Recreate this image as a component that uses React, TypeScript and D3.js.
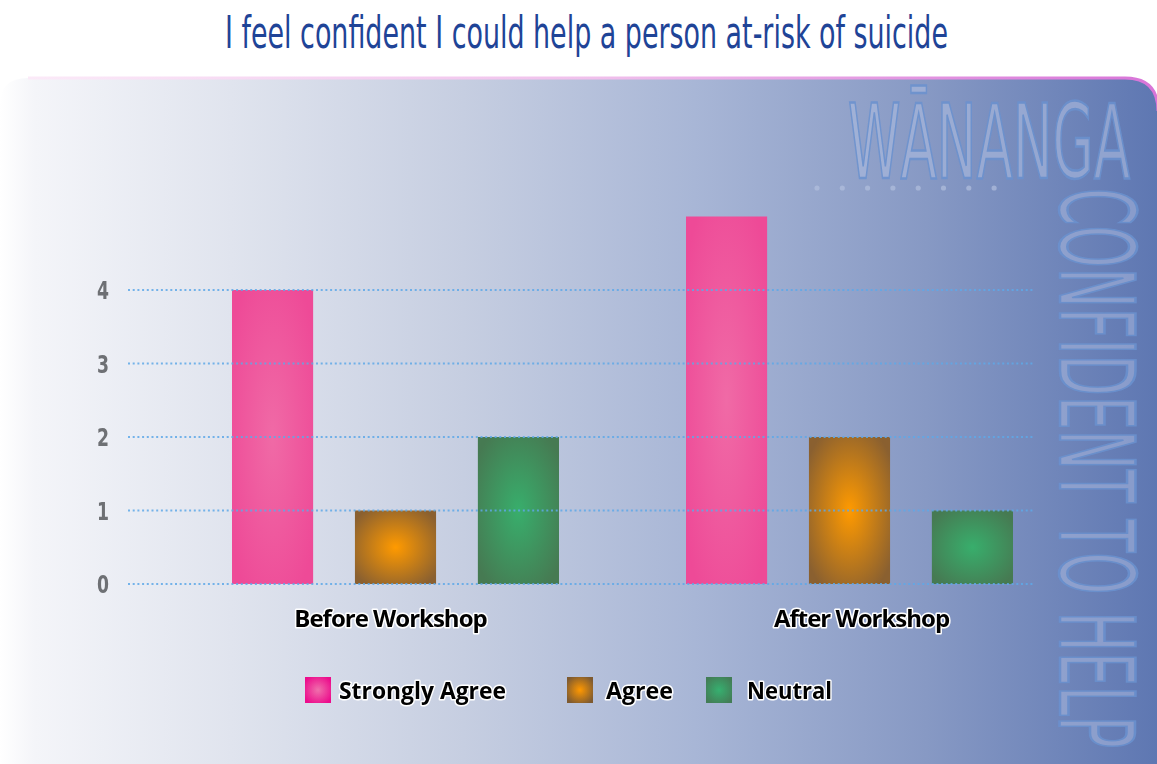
import React from "react";
import * as d3 from "d3";

const title = "I feel confident I could help a person at-risk of suicide";
const groups = ["Before Workshop", "After Workshop"];
const seriesNames = ["Strongly Agree", "Agree", "Neutral"];
const strongly = [4, 5];
const agree = [1, 2];
const neutral = [2, 1];
const yTicks = [0, 1, 2, 3, 4];
const seriesValues = [strongly, agree, neutral];

const W = 1157;
const H = 764;

const grads = [
  { id: "gPink", center: "#f06aa6", edge: "#ee4a97", legEdge: "#ec0c8c", legCenter: "#f070ac" },
  { id: "gAgree", center: "#ff9a00", edge: "#8a6030", legEdge: "#7e5a30", legCenter: "#ff9800" },
  { id: "gGreen", center: "#38ae6c", edge: "#467a52", legEdge: "#437d56", legCenter: "#36b070" },
];

export default function App() {
  const y = d3.scaleLinear().domain([0, 4]).range([584, 290]);
  const xg = d3.scalePoint<string>().domain(groups).range([395.5, 849.5]);
  const xi = d3
    .scaleBand<string>()
    .domain(seriesNames)
    .range([-163.5, 163.5])
    .paddingInner(0.34)
    .paddingOuter(0);

  const gridX0 = 128;
  const gridX1 = 1034;

  const legendItems = [
    { name: seriesNames[0], x: 305, tx: 339, tw: 167 },
    { name: seriesNames[1], x: 567, tx: 606, tw: 67 },
    { name: seriesNames[2], x: 706, tx: 747, tw: 85 },
  ];

  const haloText = {
    fontFamily: "'Open Sans', sans-serif",
    fontWeight: 700 as const,
    fill: "#000",
    stroke: "#ffffff",
    strokeWidth: 3,
    paintOrder: "stroke" as const,
    strokeLinejoin: "round" as const,
  };

  const dots = d3.range(8);

  return (
    <svg width={W} height={H} style={{ position: "absolute", left: 0, top: 0, display: "block" }}>
      <defs>
        <linearGradient id="bgGrad" x1="0" x2="1" y1="0" y2="0">
          <stop offset="0" stopColor="#ffffff" />
          <stop offset="0.03" stopColor="#f4f5f9" />
          <stop offset="0.2" stopColor="#e0e4ee" />
          <stop offset="0.4" stopColor="#c6cee1" />
          <stop offset="0.6" stopColor="#a8b6d6" />
          <stop offset="0.8" stopColor="#8799c4" />
          <stop offset="1" stopColor="#5e77b2" />
        </linearGradient>
        <linearGradient id="borderGrad" x1="0" x2="1" y1="0" y2="0">
          <stop offset="0" stopColor="#fbeaf8" />
          <stop offset="0.5" stopColor="#f0c0ec" />
          <stop offset="1" stopColor="#d874d8" />
        </linearGradient>
        {grads.map((g) => (
          <radialGradient key={g.id} id={g.id} cx="0.5" cy="0.5" r="0.62">
            <stop offset="0" stopColor={g.center} />
            <stop offset="1" stopColor={g.edge} />
          </radialGradient>
        ))}
        {grads.map((g) => (
          <radialGradient key={g.id + "L"} id={g.id + "L"} cx="0.5" cy="0.5" r="0.6">
            <stop offset="0" stopColor={g.legCenter} />
            <stop offset="1" stopColor={g.legEdge} />
          </radialGradient>
        ))}
      </defs>

      <rect x={0} y={0} width={W} height={H} fill="#ffffff" />

      {/* panel */}
      <path
        d={`M0,105 Q0,78 28,78 H1125 Q1158,78 1158,111 V${H + 10} H18 Q0,${H + 10} 0,${H - 8} Z`}
        fill="url(#bgGrad)"
      />
      <path d="M28,78 H1125 Q1158,78 1158,111" fill="none" stroke="url(#borderGrad)" strokeWidth={3} />

      {/* title */}
      <text
        x={225}
        y={48}
        textLength={723}
        lengthAdjust="spacingAndGlyphs"
        fontFamily="'DejaVu Sans Condensed', 'DejaVu Sans', sans-serif"
        fontSize={45}
        fill="#1f4497"
      >
        {title}
      </text>

      {/* watermark */}
      <g opacity={0.85}>
        <text
          x={848}
          y={178}
          textLength={282}
          lengthAdjust="spacingAndGlyphs"
          fontFamily="'DejaVu Sans Condensed', 'DejaVu Sans', sans-serif"
          fontSize={103}
          fill="#a9b9dd"
          fillOpacity={0.75}
          stroke="#6b92cf"
          strokeWidth={2.5}
        >
          WĀNANGA
        </text>
        {dots.map((i) => (
          <circle key={i} cx={817 + i * 25.3} cy={188} r={2.6} fill="#b3c0de" opacity={0.8} />
        ))}
        <text
          transform="translate(1060,188) rotate(90)"
          x={0}
          y={0}
          textLength={560}
          lengthAdjust="spacingAndGlyphs"
          fontFamily="'DejaVu Sans Condensed', 'DejaVu Sans', sans-serif"
          fontSize={103}
          fill="#a9b9dd"
          fillOpacity={0.65}
          stroke="#6b92cf"
          strokeWidth={2.5}
        >
          CONFIDENT TO HELP
        </text>
      </g>

      {/* bars */}
      {groups.map((g, gi) => (
        <g key={g} transform={`translate(${xg(g)},0)`}>
          {seriesNames.map((s, si) => {
            const v = seriesValues[si][gi];
            return (
              <rect
                key={s}
                x={xi(s)!}
                y={y(v)}
                width={xi.bandwidth()}
                height={y(0) - y(v)}
                fill={`url(#${grads[si].id})`}
              />
            );
          })}
        </g>
      ))}

      {/* gridlines */}
      {yTicks.map((t) => (
        <line
          key={t}
          x1={gridX0}
          x2={gridX1}
          y1={y(t)}
          y2={y(t)}
          stroke="#5fa9e8"
          strokeWidth={2}
          strokeDasharray="2 2.7"
          opacity={0.85}
        />
      ))}

      {/* y tick labels */}
      {yTicks.map((t) => (
        <text
          key={t}
          x={97}
          y={y(t) + 9}
          textLength={12}
          lengthAdjust="spacingAndGlyphs"
          fontFamily="'DejaVu Sans Condensed', 'DejaVu Sans', sans-serif"
          fontWeight={700}
          fontSize={25}
          fill="#6e7074"
        >
          {t}
        </text>
      ))}

      {/* category labels */}
      {groups.map((g, gi) => (
        <text
          key={g}
          x={xg(g)! + (gi === 0 ? -5 : 12)}
          y={627}
          textAnchor="middle"
          fontSize={24}
          letterSpacing={-1}
          {...haloText}
        >
          {g}
        </text>
      ))}

      {/* legend */}
      {legendItems.map((it, i) => (
        <g key={it.name}>
          <rect x={it.x} y={677} width={26} height={26} fill={`url(#${grads[i].id}L)`} />
          <text
            x={it.tx}
            y={699}
            textLength={it.tw}
            lengthAdjust="spacingAndGlyphs"
            fontSize={24}
            {...haloText}
          >
            {it.name}
          </text>
        </g>
      ))}
    </svg>
  );
}
